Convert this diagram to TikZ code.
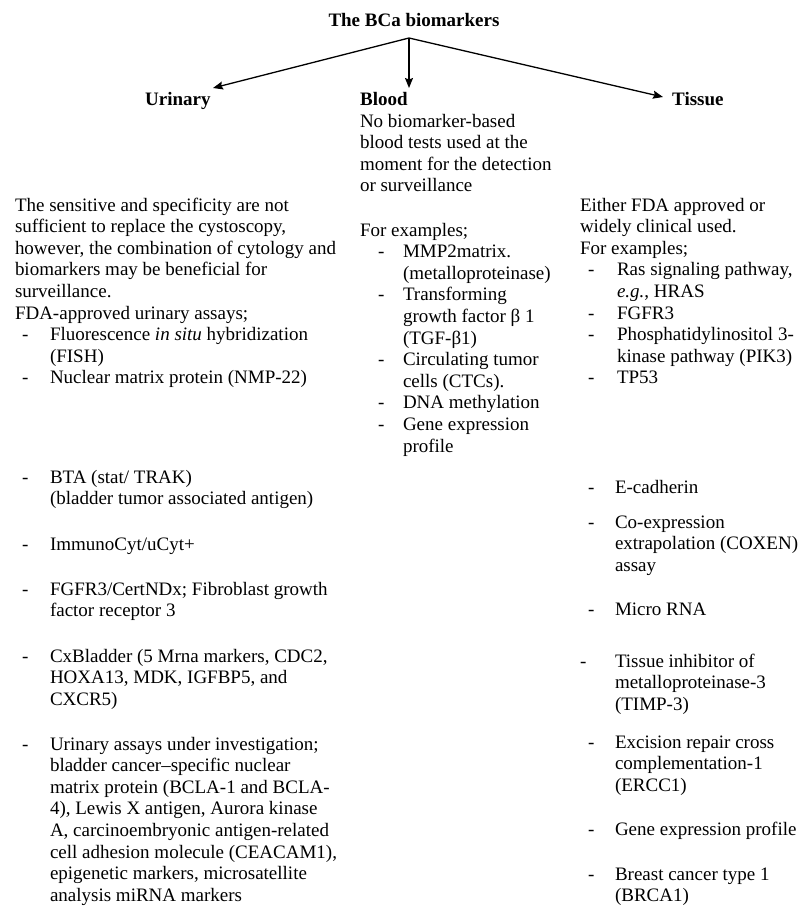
\documentclass[tikz,border=0pt]{standalone}
\usepackage{fontspec}
\setmainfont{Liberation Serif}
\usetikzlibrary{arrows.meta}
\newcommand\fsz{\fontsize{19}{21.6}\selectfont}
\newcommand\ml[1]{\vtop{\let\\\cr\halign{\strut##\hfil\cr#1\crcr}}}
\tikzset{
  txt/.style={anchor=base west, inner sep=0pt, outer sep=0pt, font=\fsz},
  hdr/.style={anchor=base west, inner sep=0pt, font=\fsz\bfseries},
  arr/.style={line width=1.3pt, -{Stealth[length=10pt,width=8pt,inset=1.5pt]}},
}
\begin{document}
\begin{tikzpicture}[x=1pt,y=-1pt]
\useasboundingbox[fill=white] (0,0) rectangle (802,908);
% title and headers
\node[anchor=base, inner sep=0pt, font=\fsz\bfseries] (title) at (414,26) {The BCa biomarkers};
\node[hdr] (uri) at (145,105) {Urinary};
\node[hdr] (blo) at (360,105) {Blood};
\node[hdr] (tis) at (672,105) {Tissue};
\coordinate (apex) at (409,38);
\coordinate (uend) at (213,88);
\coordinate (bend) at (409,88);
\coordinate (tend) at (663,97);
\draw[arr] (apex) -- (uend);
\draw[arr] (apex) -- (bend);
\draw[arr] (apex) -- (tend);
% ---------- Urinary column
\node[txt] (u0) at (15,211) {\ml{The sensitive and specificity are not\\sufficient to replace the cystoscopy,\\however, the combination of cytology and\\biomarkers may be beneficial for\\surveillance.\\FDA-approved urinary assays;}};
\node[txt] (ud1) at (22,340.6) {-};
\node[txt] (u1) at (50,340.6) {\ml{Fluorescence \textit{in situ} hybridization\\(FISH)}};
\node[txt] (ud2) at (22,383.8) {-};
\node[txt] (u2) at (50,383.8) {Nuclear matrix protein (NMP-22)};
\node[txt] (ud3) at (22,483) {-};
\node[txt] (u3) at (50,483) {\ml{BTA (stat/ TRAK)\\(bladder tumor associated antigen)}};
\node[txt] (ud4) at (22,550) {-};
\node[txt] (u4) at (50,550) {ImmunoCyt/uCyt+};
\node[txt] (ud5) at (22,595) {-};
\node[txt] (u5) at (50,595) {\ml{FGFR3/CertNDx; Fibroblast growth\\factor receptor 3}};
\node[txt] (ud6) at (22,662) {-};
\node[txt] (u6) at (50,662) {\ml{CxBladder (5 Mrna markers, CDC2,\\HOXA13, MDK, IGFBP5, and\\CXCR5)}};
\node[txt] (ud7) at (22,750) {-};
\node[txt] (u7) at (50,750) {\ml{Urinary assays under investigation;\\bladder cancer–specific nuclear\\matrix protein (BCLA-1 and BCLA-\\4), Lewis X antigen, Aurora kinase\\A, carcinoembryonic antigen-related\\cell adhesion molecule (CEACAM1),\\epigenetic markers, microsatellite\\analysis miRNA markers}};
% ---------- Blood column
\node[txt] (b0) at (360,127) {\ml{No biomarker-based\\blood tests used at the\\moment for the detection\\or surveillance}};
\node[txt] (b1) at (360,236) {For examples;};
\node[txt] (bd1) at (378,257.6) {-};
\node[txt] (b2) at (403,257.6) {\ml{MMP2matrix.\\(metalloproteinase)}};
\node[txt] (bd2) at (378,300.8) {-};
\node[txt] (b3) at (403,300.8) {\ml{Transforming\\growth factor β 1\\(TGF-β1)}};
\node[txt] (bd3) at (378,365.6) {-};
\node[txt] (b4) at (403,365.6) {\ml{Circulating tumor\\cells (CTCs).}};
\node[txt] (bd4) at (378,408.8) {-};
\node[txt] (b5) at (403,408.8) {DNA methylation};
\node[txt] (bd5) at (378,430.4) {-};
\node[txt] (b6) at (403,430.4) {\ml{Gene expression\\profile}};
% ---------- Tissue column
\node[txt] (t0) at (580,211) {\ml{Either FDA approved or\\widely clinical used.\\For examples;}};
\node[txt] (td1) at (588,275.8) {-};
\node[txt] (t1) at (617,275.8) {\ml{Ras signaling pathway,\\\textit{e.g.}, HRAS}};
\node[txt] (td2) at (588,319) {-};
\node[txt] (t2) at (617,319) {FGFR3};
\node[txt] (td3) at (588,340.6) {-};
\node[txt] (t3) at (617,340.6) {\ml{Phosphatidylinositol 3-\\kinase pathway (PIK3)}};
\node[txt] (td4) at (588,383.8) {-};
\node[txt] (t4) at (617,383.8) {TP53};
\node[txt] (td5) at (588,493) {-};
\node[txt] (t5) at (615,493) {E-cadherin};
\node[txt] (td6) at (588,528) {-};
\node[txt] (t6) at (615,528) {\ml{Co-expression\\extrapolation (COXEN)\\assay}};
\node[txt] (td7) at (588,615) {-};
\node[txt] (t7) at (615,615) {Micro RNA};
\node[txt] (td8) at (580,667) {-};
\node[txt] (t8) at (615,667) {\ml{Tissue inhibitor of\\metalloproteinase-3\\(TIMP-3)}};
\node[txt] (td9) at (588,748) {-};
\node[txt] (t9) at (615,748) {\ml{Excision repair cross\\complementation-1\\(ERCC1)}};
\node[txt] (td10) at (588,835) {-};
\node[txt] (t10) at (615,835) {Gene expression profile};
\node[txt] (td11) at (588,880) {-};
\node[txt] (t11) at (615,880) {\ml{Breast cancer type 1\\(BRCA1)}};
\end{tikzpicture}
\end{document}
